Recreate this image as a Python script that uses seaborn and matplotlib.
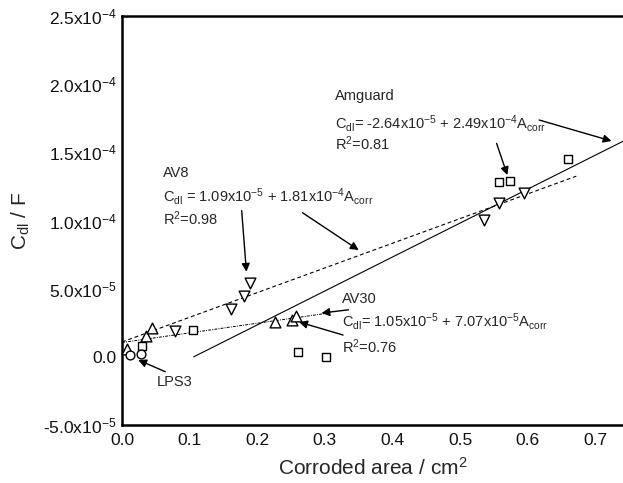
import numpy as np
import pandas as pd
import matplotlib
matplotlib.use("Agg")
import matplotlib.pyplot as plt
import seaborn as sns

sns.set_theme(style="white")
plt.rcParams['font.family'] = ['Liberation Sans', 'DejaVu Sans']
plt.rcParams['mathtext.fontset'] = 'custom'
plt.rcParams['mathtext.rm'] = 'Liberation Sans'
plt.rcParams['mathtext.it'] = 'Liberation Sans'
plt.rcParams['mathtext.bf'] = 'Liberation Sans:bold'

# ---- data ----
amguard_x = [0.029, 0.105, 0.261, 0.302, 0.557, 0.574, 0.660]
amguard_y = [8.0e-6, 1.97e-5, 3.5e-6, -4e-7, 1.28e-4, 1.29e-4, 1.45e-4]

av8_x = [0.079, 0.161, 0.180, 0.189, 0.535, 0.558, 0.594]
av8_y = [1.89e-5, 3.50e-5, 4.48e-5, 5.44e-5, 1.00e-4, 1.13e-4, 1.20e-4]

av30_x = [0.008, 0.036, 0.045, 0.226, 0.251, 0.258]
av30_y = [5.7e-6, 1.52e-5, 2.09e-5, 2.53e-5, 2.70e-5, 2.99e-5]

lps3_x = [0.012, 0.028]
lps3_y = [1.3e-6, 2.0e-6]

# linear fits (intercept, slope) and x-range drawn
fit_amguard = (-2.64e-5, 2.49e-4, 0.106, 0.80)
fit_av8 = (1.09e-5, 1.81e-4, 0.0, 0.672)
fit_av30 = (1.05e-5, 7.07e-5, 0.0, 0.30)

xticks = [0.0, 0.1, 0.2, 0.3, 0.4, 0.5, 0.6, 0.7]
xticklabels = ["0.0", "0.1", "0.2", "0.3", "0.4", "0.5", "0.6", "0.7"]
yticks = [-5e-5, 0.0, 5e-5, 1e-4, 1.5e-4, 2e-4, 2.5e-4]
yticklabels = [r"-5.0x10$^{\mathregular{-5}}$", "0.0",
               r"5.0x10$^{\mathregular{-5}}$", r"1.0x10$^{\mathregular{-4}}$",
               r"1.5x10$^{\mathregular{-4}}$", r"2.0x10$^{\mathregular{-4}}$",
               r"2.5x10$^{\mathregular{-4}}$"]

fig = plt.figure(figsize=(6.23, 4.83), dpi=100)
ax = fig.add_axes([122/623, 1-425/483, (623-122)/623, (425-16)/483])

# fit lines
def fit_df(fit):
    b, m, x0, x1 = fit
    xs = np.array([x0, x1])
    return pd.DataFrame({"x": xs, "y": b + m*xs})

lw = 0.8
sns.lineplot(data=fit_df(fit_amguard), x="x", y="y", color="black", lw=lw, ax=ax)
l2 = sns.lineplot(data=fit_df(fit_av8), x="x", y="y", color="black", lw=lw, ax=ax)
ax.lines[-1].set_dashes((3.5, 2.5))
sns.lineplot(data=fit_df(fit_av30), x="x", y="y", color="black", lw=0.7, ax=ax)
ax.lines[-1].set_dashes((3, 1.2, 1, 1.2))

mk = dict(facecolor="white", edgecolor="black", linewidth=1.0, ax=ax, zorder=5)
sns.scatterplot(x=amguard_x, y=amguard_y, marker="s", s=40, **mk)
sns.scatterplot(x=av8_x, y=av8_y, marker="v", s=60, **mk)
sns.scatterplot(x=av30_x, y=av30_y, marker="^", s=60, **mk)
sns.scatterplot(x=lps3_x, y=lps3_y, marker="o", s=40, **mk)

ax.set_xlim(0, 0.741)
ax.set_ylim(-5e-5, 2.5e-4)
ax.set_xticks(xticks)
ax.set_xticklabels(xticklabels)
ax.set_yticks(yticks)
ax.set_yticklabels(yticklabels)
ax.set_xticks(np.arange(0.05, 0.75, 0.1), minor=True)
ax.set_yticks(np.arange(-2.5e-5, 2.5e-4, 5e-5), minor=True)
ax.tick_params(which="both", direction="in", width=1.5, color="black",
               labelsize=12.5, labelcolor="#111111")
ax.tick_params(which="major", length=5)
ax.tick_params(which="minor", length=3)
ax.tick_params(axis="x", pad=6)
ax.tick_params(axis="y", pad=4)
for side in ["left", "bottom", "top"]:
    ax.spines[side].set_linewidth(1.8)
    ax.spines[side].set_color("black")
ax.spines["right"].set_visible(False)

ax.set_xlabel(r"Corroded area / cm$^{\mathregular{2}}$", fontsize=15, labelpad=6)
ax.set_ylabel(r"C$_{\mathregular{dl}}$ / F", fontsize=15, labelpad=8)

fs = 10.5
ap = dict(arrowstyle="-|>", lw=1.0, color="black", mutation_scale=12,
          shrinkA=0, shrinkB=0)

# Amguard
ax.text(0.315, 1.913e-4, "Amguard", fontsize=fs, va="center")
ax.text(0.315, 1.713e-4,
        r"C$_{\mathregular{dl}}$= -2.64x10$^{\mathregular{-5}}$ + 2.49x10$^{\mathregular{-4}}$A$_{\mathregular{corr}}$",
        fontsize=fs, va="center")
ax.text(0.315, 1.561e-4, r"R$^{\mathregular{2}}$=0.81", fontsize=fs, va="center")
ax.annotate("", xy=(0.724, 1.583e-4), xytext=(0.617, 1.737e-4), arrowprops=ap)
ax.annotate("", xy=(0.570, 1.333e-4), xytext=(0.554, 1.566e-4), arrowprops=ap)

# AV8
ax.text(0.060, 1.350e-4, "AV8", fontsize=fs, va="center")
ax.text(0.060, 1.174e-4,
        r"C$_{\mathregular{dl}}$ = 1.09x10$^{\mathregular{-5}}$ + 1.81x10$^{\mathregular{-4}}$A$_{\mathregular{corr}}$",
        fontsize=fs, va="center")
ax.text(0.060, 1.011e-4, r"R$^{\mathregular{2}}$=0.98", fontsize=fs, va="center")
ax.annotate("", xy=(0.184, 6.24e-5), xytext=(0.177, 1.072e-4), arrowprops=ap)
ax.annotate("", xy=(0.350, 7.83e-5), xytext=(0.267, 1.057e-4), arrowprops=ap)

# AV30
ax.text(0.325, 4.22e-5, "AV30", fontsize=fs, va="center")
ax.text(0.325, 2.57e-5,
        r"C$_{\mathregular{dl}}$= 1.05x10$^{\mathregular{-5}}$ + 7.07x10$^{\mathregular{-5}}$A$_{\mathregular{corr}}$",
        fontsize=fs, va="center")
ax.text(0.325, 7.4e-6, r"R$^{\mathregular{2}}$=0.76", fontsize=fs, va="center")
ax.annotate("", xy=(0.295, 3.21e-5), xytext=(0.335, 3.45e-5), arrowprops=ap)
ax.annotate("", xy=(0.262, 2.55e-5), xytext=(0.327, 1.6e-5), arrowprops=ap)

# LPS3
ax.text(0.051, -1.83e-5, "LPS3", fontsize=fs, va="center")
ax.annotate("", xy=(0.024, -2.3e-6), xytext=(0.064, -1.09e-5), arrowprops=ap)

fig.savefig("out.png", dpi=100)
